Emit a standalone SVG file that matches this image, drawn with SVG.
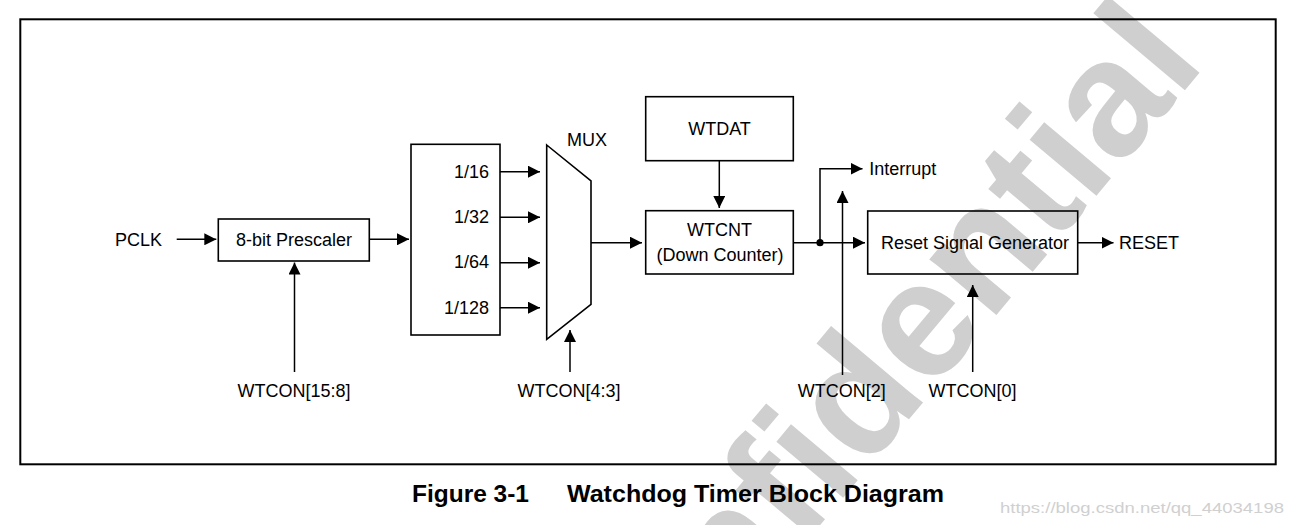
<svg xmlns="http://www.w3.org/2000/svg" width="1293" height="525" viewBox="0 0 1293 525">
<style>
.t{font-family:"Liberation Sans",Arial,sans-serif;font-size:18px;fill:#000}
.c{text-anchor:middle}
.box{fill:none;stroke:#000;stroke-width:1.6}
.ln{fill:none;stroke:#000;stroke-width:1.5}
.cap{font-family:"Liberation Sans",Arial,sans-serif;font-size:24px;font-weight:bold;fill:#000}
</style>
<defs>
<marker id="ah" markerWidth="12" markerHeight="12" refX="12" refY="6" orient="auto" markerUnits="userSpaceOnUse">
<path d="M0,0 L12,6 L0,12 Z" fill="#000"/>
</marker>
</defs>
<rect width="1293" height="525" fill="#fff"/>
<text id="watermark" transform="translate(1207,64) rotate(-50)" text-anchor="end" font-family="Liberation Sans,Arial,sans-serif" font-weight="bold" font-size="165" fill="#cfcfcf">Confidential</text>
<rect x="20.3" y="19.3" width="1255.4" height="445" fill="none" stroke="#000" stroke-width="2"/>

<g id="pclk"><text class="t" x="115" y="246">PCLK</text></g>
<g id="prescaler"><rect class="box" x="218.3" y="219" width="151" height="42"/><text class="t c" x="294" y="246">8-bit Prescaler</text></g>
<g id="divider"><rect class="box" x="411" y="144.3" width="89" height="190.7"/>
<text class="t" x="489" y="178" text-anchor="end">1/16</text>
<text class="t" x="489" y="223" text-anchor="end">1/32</text>
<text class="t" x="489" y="268" text-anchor="end">1/64</text>
<text class="t" x="489" y="314" text-anchor="end">1/128</text></g>
<g id="mux"><path class="box" d="M546.7,145 L591,181 L591,304.3 L546.7,339.3 Z"/><text class="t" x="567" y="146">MUX</text></g>
<g id="wtdat"><rect class="box" x="645.7" y="96.7" width="147.6" height="64"/><text class="t c" x="719.5" y="135">WTDAT</text></g>
<g id="wtcnt"><rect class="box" x="645.7" y="210.7" width="147.6" height="63.3"/><text class="t c" x="719.5" y="236">WTCNT</text><text class="t c" x="720" y="260.5">(Down Counter)</text></g>
<g id="resetgen"><rect class="box" x="867.7" y="211" width="210" height="63"/><text class="t c" x="975" y="249">Reset Signal Generator</text></g>
<g id="labels">
<text class="t" x="869.3" y="174.5">Interrupt</text>
<text class="t" x="1119" y="249">RESET</text>
<text class="t c" x="294" y="397">WTCON[15:8]</text>
<text class="t c" x="569" y="397">WTCON[4:3]</text>
<text class="t c" x="841.7" y="397">WTCON[2]</text>
<text class="t c" x="972.5" y="397">WTCON[0]</text>
</g>
<g id="connectors">
<line class="ln" x1="176.7" y1="239.3" x2="216.3" y2="239.3" marker-end="url(#ah)"/>
<line class="ln" x1="369.3" y1="239.3" x2="409" y2="239.3" marker-end="url(#ah)"/>
<line class="ln" x1="294.5" y1="372" x2="294.5" y2="262.5" marker-end="url(#ah)"/>
<line class="ln" x1="500" y1="171.7" x2="540" y2="171.7" marker-end="url(#ah)"/>
<line class="ln" x1="500" y1="217.3" x2="540" y2="217.3" marker-end="url(#ah)"/>
<line class="ln" x1="500" y1="262.7" x2="540" y2="262.7" marker-end="url(#ah)"/>
<line class="ln" x1="500" y1="307.7" x2="540" y2="307.7" marker-end="url(#ah)"/>
<line class="ln" x1="570" y1="372" x2="570" y2="330" marker-end="url(#ah)"/>
<line class="ln" x1="591" y1="242.7" x2="642" y2="242.7" marker-end="url(#ah)"/>
<line class="ln" x1="719.3" y1="160.7" x2="719.3" y2="208" marker-end="url(#ah)"/>
<line class="ln" x1="793.3" y1="242.7" x2="865" y2="242.7" marker-end="url(#ah)"/>
<polyline class="ln" points="820,242.7 820,168.7 862.5,168.7" marker-end="url(#ah)"/>
<circle cx="820" cy="242.7" r="3.6" fill="#000"/>
<line class="ln" x1="842.5" y1="375" x2="842.5" y2="191" marker-end="url(#ah)"/>
<line class="ln" x1="972.7" y1="372" x2="972.7" y2="285" marker-end="url(#ah)"/>
<line class="ln" x1="1077.7" y1="242.7" x2="1113.5" y2="242.7" marker-end="url(#ah)"/>
</g>
<g id="caption">
<text class="cap" x="412" y="502" textLength="117" lengthAdjust="spacingAndGlyphs">Figure 3-1</text>
<text class="cap" x="567" y="502" textLength="377" lengthAdjust="spacingAndGlyphs">Watchdog Timer Block Diagram</text>
</g>
<text id="csdn" x="1000" y="513" font-family="Liberation Sans,Arial,sans-serif" font-size="15" fill="#d0d0d0" textLength="284" lengthAdjust="spacingAndGlyphs">https://blog.csdn.net/qq_44034198</text>
</svg>
